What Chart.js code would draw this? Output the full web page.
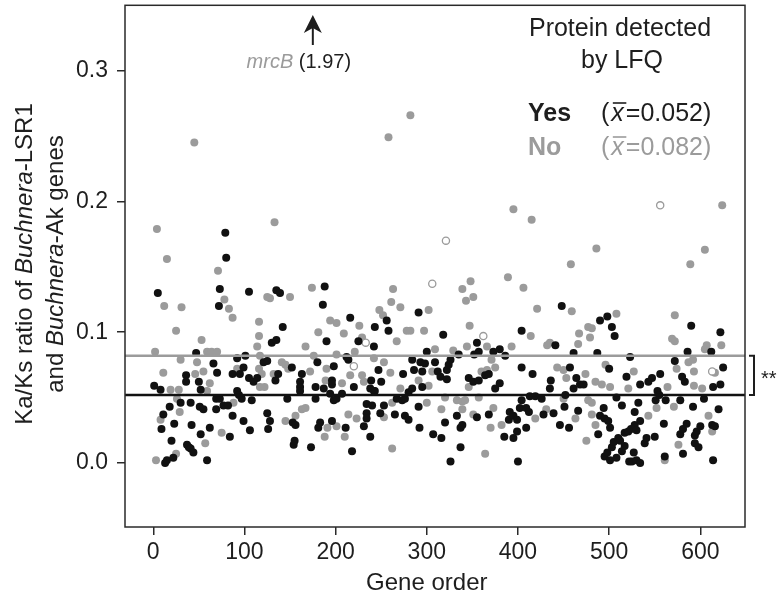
<!DOCTYPE html>
<html><head><meta charset="utf-8">
<script src="https://cdn.jsdelivr.net/npm/chart.js@4"></script>
<style>html,body{margin:0;padding:0;background:#fff}#wrap{width:779px;height:600px}</style>
</head><body><div id="wrap"><canvas id="c" width="779" height="600"></canvas></div>
<script>
const xTicks = [0, 100, 200, 300, 400, 500, 600];
const yTicks = [0, 0.1, 0.2, 0.3];
const meanYes = 0.052;
const meanNo = 0.082;
const mrcBGene = 175;
const mrcBRatio = 1.97;

// Protein detected by LFQ: Yes (black)
const yesGene = [1,5,8,9,11,13,15,18,20,22,23,30,36,36,37,39,41,41,42,44,47,50,51,52,52,55,59,62,66,69,69,70,72,73,73,77,79,80,82,84,87,87,92,92,
94,95,97,99,99,101,105,105,106,108,110,114,121,125,125,126,128,130,134,135,135,137,139,142,147,152,153,154,155,156,161,161,161,163,173,178,178,180,181,183,186,187,188,190,196,196,198,198,
194,196,201,207,211,212,214,216,218,220,225,231,234,234,234,238,238,239,240,242,242,243,243,247,249,250,253,256,258,265,267,273,274,276,276,280,280,284,284,286,291,291,292,293,295,295,298,300,
307,309,312,315,316,318,320,322,322,324,326,326,333,335,337,337,339,346,351,352,355,355,357,357,364,368,368,373,375,380,380,385,386,390,391,395,395,399,399,400,402,404,404,404,
409,409,412,413,416,419,426,428,435,436,439,441,446,448,451,452,456,457,461,461,464,466,468,472,487,488,490,490,494,495,495,498,498,499,500,501,501,503,503,505,506,508,508,510,
512,514,514,517,517,519,521,522,523,524,525,527,528,528,530,530,532,534,534,534,539,541,543,547,550,551,553,555,556,560,561,562,572,578,578,580,581,581,583,585,586,590,592,594,594,596,598,600,604,612,613,614,614,616,620,622,622,625];
const yesRatio = [.059,.130,.056,.026,.037,.000,.002,.043,.017,.004,.030,.046,.067,.062,.014,.012,.046,.011,.029,.008,.084,.062,.043,.056,.022,.041,.002,.027,.076,.049,.041,.069,.120,.133,.049,.044,.176,.157,.044,.020,.068,.036,.080,.055,
.052,.068,.049,.073,.032,.082,.131,.065,.025,.048,.062,.065,.077,.078,.038,.026,.032,.092,.063,.132,.094,.068,.130,.104,.049,.073,.031,.014,.017,.029,.062,.058,.055,.068,.012,.058,.049,.077,.027,.031,.121,.057,.135,.093,.063,.032,.074,.048,
.053,.060,.049,.053,.027,.081,.079,.111,.009,.058,.093,.028,.045,.038,.034,.057,.020,.063,.044,.089,.055,.104,.055,.071,.038,.062,.044,.109,.101,.037,.049,.048,.068,.049,.036,.054,.033,.079,.057,.071,.115,.043,.027,.077,.070,.058,.076,.085,
.022,.077,.070,.066,.019,.098,.031,.071,.064,.075,.079,.001,.036,.083,.027,.012,.029,.065,.062,.083,.092,.035,.085,.063,.067,.068,.037,.085,.057,.087,.061,.020,.082,.033,.039,.036,.019,.033,.024,.001,.042,.101,.073,.048,
.042,.027,.039,.051,.068,.051,.049,.037,.057,.063,.038,.090,.029,.120,.043,.052,.027,.073,.084,.057,.065,.040,.060,.060,.084,.022,.109,.036,.042,.034,.005,.112,.008,.032,.072,.027,.002,.104,.012,.016,.097,.050,.004,.019,
.017,.044,.009,.023,.013,.066,.024,.001,.081,.026,.001,.008,.039,.029,.025,.002,.046,.060,.032,.000,.015,.019,.062,.065,.020,.048,.055,.052,.068,.030,.005,.048,.078,.048,.022,.066,.026,.007,.062,.030,.085,.105,.043,.021,.015,.024,.012,.028,.049,.085,.029,.058,.002,.028,.041,.100,.060,.073];

// Protein detected by LFQ: No (grey)
const noGene = [2,3,4,8,11,12,15,19,25,25,26,28,29,30,31,45,46,48,53,55,57,59,59,62,64,70,71,75,78,83,87,88,92,
114,116,116,116,117,117,119,122,125,128,132,133,141,145,145,148,150,156,163,167,167,172,174,176,181,188,189,190,191,194,
201,201,201,207,209,210,214,216,221,223,226,229,229,231,242,248,252,253,253,258,260,261,262,262,263,267,271,271,278,282,282,291,297,300,302,302,
306,309,316,320,329,333,339,339,339,342,343,344,346,347,348,351,351,357,360,364,366,366,370,371,373,375,382,389,393,395,406,
414,415,419,421,431,432,435,443,450,450,453,458,459,463,466,467,474,475,477,477,479,481,481,481,485,485,486,492,496,501,508,
521,527,543,552,561,564,569,571,572,572,574,576,587,589,592,593,593,602,605,605,607,609,613,616,623,624];
const noRatio = [.085,.002,.179,.033,.069,.120,.156,.056,.101,.007,.049,.056,.039,.079,.119,.245,.068,.077,.094,.070,.015,.085,.055,.061,.085,.085,.147,.023,.125,.118,.111,.046,.072,
.089,.108,.097,.072,.082,.058,.068,.058,.127,.126,.068,.184,.077,.075,.032,.072,.127,.036,.041,.089,.042,.070,.134,.082,.100,.020,.063,.072,.027,.109,
.107,.083,.028,.061,.099,.020,.037,.067,.085,.034,.105,.096,.067,.062,.080,.117,.113,.077,.035,.249,.069,.123,.046,.011,.133,.093,.119,.057,.101,.101,.266,.063,.101,.046,.117,.059,
.070,.087,.041,.050,.086,.048,.133,.047,.041,.048,.124,.089,.058,.105,.139,.127,.037,.050,.070,.007,.089,.071,.027,.079,.042,.073,.029,.142,.089,.194,.134,
.097,.186,.034,.118,.041,.090,.092,.073,.071,.049,.065,.152,.116,.034,.091,.099,.068,.017,.104,.048,.096,.103,.046,.037,.062,.029,.164,.060,.075,.058,.114,
.057,.070,.036,.042,.002,.058,.095,.043,.113,.093,.072,.014,.077,.152,.079,.070,.059,.057,.163,.087,.090,.036,.024,.069,.090,.197];

// open circles (grey outline)
const openGene = [220, 233, 306, 321, 362, 556, 613];
const openRatio = [.074, .092, .137, .170, .097, .197, .070];

const F = "'Liberation Sans', Arial, Helvetica, sans-serif";
const BLACK = '#111111';
const GREY = '#9b9b9b';
const TXT = '#1e1e1e';
const X_MIN = -31, X_MAX = 649, Y_MIN = -0.049, Y_MAX = 0.35;

const pts = (g, r) => g.map((v, i) => ({x: v, y: r[i]}));

function runsWidth(ctx, runs) {
  let w = 0;
  for (const r of runs) { ctx.font = r.f; w += ctx.measureText(r.t).width; }
  return w;
}
function drawRuns(ctx, runs, x, y, align) {
  const w = runsWidth(ctx, runs);
  let cx = align === 'center' ? x - w / 2 : x;
  ctx.textAlign = 'left';
  for (const r of runs) {
    ctx.font = r.f; ctx.fillStyle = r.c || TXT;
    ctx.fillText(r.t, cx, y);
    cx += ctx.measureText(r.t).width;
  }
}
function drawMean(ctx, x, y, val, color, size) {
  const n = size + 'px ' + F, it = 'italic ' + size + 'px ' + F;
  ctx.textAlign = 'left'; ctx.fillStyle = color;
  ctx.font = n; ctx.fillText('(', x, y); x += ctx.measureText('(').width + 2;
  ctx.font = it; const wx = ctx.measureText('x').width;
  ctx.fillText('x', x, y);
  ctx.strokeStyle = color; ctx.lineWidth = 1.6;
  ctx.beginPath(); ctx.moveTo(x + 1.5, y - size * 0.72); ctx.lineTo(x + wx + 2.5, y - size * 0.72); ctx.stroke();
  x += wx + 2;
  ctx.font = n; ctx.fillText('=' + val.toFixed(3) + ')', x, y);
}

const overlay = {
  id: 'overlay',
  afterDraw(chart) {
    const ctx = chart.ctx, ca = chart.chartArea;
    const xs = chart.scales.x, ys = chart.scales.y;
    ctx.save();
    // plot box
    ctx.strokeStyle = '#2a2a2a'; ctx.lineWidth = 1.5;
    ctx.strokeRect(ca.left, ca.top, ca.right - ca.left, ca.bottom - ca.top);

    // y title (two lines, rotated)
    const cy = 264;
    const n = '24px ' + F, it = 'italic 24px ' + F;
    ctx.textBaseline = 'middle';
    ctx.translate(25, cy); ctx.rotate(-Math.PI / 2);
    drawRuns(ctx, [{t: 'Ka/Ks ratio of ', f: n}, {t: 'Buchnera', f: it}, {t: '-LSR1', f: n}], 0, 0, 'center');
    ctx.setTransform(1, 0, 0, 1, 0, 0);
    ctx.translate(56, cy); ctx.rotate(-Math.PI / 2);
    drawRuns(ctx, [{t: 'and ', f: n}, {t: 'Buchnera', f: it}, {t: '-Ak genes', f: n}], 0, 0, 'center');
    ctx.setTransform(1, 0, 0, 1, 0, 0);

    // x title
    ctx.textBaseline = 'alphabetic';
    drawRuns(ctx, [{t: 'Gene order', f: '24px ' + F}], xs.getPixelForValue(300), 590, 'center');

    // legend
    const L = '25px ' + F, LB = 'bold 25px ' + F;
    drawRuns(ctx, [{t: 'Protein detected', f: L}], 620, 36, 'center');
    drawRuns(ctx, [{t: 'by LFQ', f: L}], 622, 68, 'center');
    drawRuns(ctx, [{t: 'Yes', f: LB, c: TXT}], 528, 121, 'left');
    drawMean(ctx, 601, 121, meanYes, TXT, 25);
    drawRuns(ctx, [{t: 'No', f: LB, c: GREY}], 528, 155, 'left');
    drawMean(ctx, 601, 155, meanNo, GREY, 25);

    // mrcB arrow (off-scale value)
    const ax = xs.getPixelForValue(mrcBGene);
    ctx.strokeStyle = TXT; ctx.fillStyle = TXT; ctx.lineWidth = 2;
    ctx.beginPath(); ctx.moveTo(ax, 45); ctx.lineTo(ax, 27); ctx.stroke();
    ctx.beginPath(); ctx.moveTo(ax, 15); ctx.lineTo(ax - 9, 33); ctx.lineTo(ax, 28); ctx.lineTo(ax + 9, 33); ctx.closePath(); ctx.fill();
    drawRuns(ctx, [{t: 'mrcB', f: 'italic 20px ' + F, c: GREY}, {t: ' (' + mrcBRatio.toFixed(2) + ')', f: '20px ' + F, c: TXT}], ax - 14, 68, 'center');

    // significance bracket
    const y1 = ys.getPixelForValue(meanNo), y2 = ys.getPixelForValue(meanYes);
    const bx = ca.right + 9;
    ctx.strokeStyle = TXT; ctx.lineWidth = 2;
    ctx.beginPath(); ctx.moveTo(bx - 5, y1); ctx.lineTo(bx, y1); ctx.lineTo(bx, y2); ctx.lineTo(bx - 5, y2); ctx.stroke();
    ctx.fillStyle = TXT; ctx.font = '20px ' + F; ctx.textAlign = 'left'; ctx.textBaseline = 'middle';
    ctx.fillText('**', bx + 7, (y1 + y2) / 2 + 4);
    ctx.restore();
  }
};

new Chart(document.getElementById('c'), {
  type: 'scatter',
  data: {
    datasets: [
      {type: 'line', label: 'meanYes', data: [{x: X_MIN, y: meanYes}, {x: X_MAX, y: meanYes}], borderColor: BLACK, borderWidth: 2.5, pointRadius: 0, fill: false},
      {type: 'line', label: 'meanNo', data: [{x: X_MIN, y: meanNo}, {x: X_MAX, y: meanNo}], borderColor: GREY, borderWidth: 2.5, pointRadius: 0, fill: false},
      {label: 'Yes', data: pts(yesGene, yesRatio), backgroundColor: BLACK, borderWidth: 0, pointRadius: 4},
      {label: 'Open', data: pts(openGene, openRatio), backgroundColor: '#ffffff', borderColor: GREY, borderWidth: 1.3, pointRadius: 3.6},
      {label: 'No', data: pts(noGene, noRatio), backgroundColor: GREY, borderWidth: 0, pointRadius: 4}
    ]
  },
  options: {
    responsive: false, animation: false, devicePixelRatio: 1,
    layout: {padding: {top: 2, right: 34, left: 0, bottom: 0}},
    plugins: {legend: {display: false}, tooltip: {enabled: false}},
    scales: {
      x: {
        type: 'linear', min: X_MIN, max: X_MAX,
        afterBuildTicks: s => { s.ticks = xTicks.map(v => ({value: v})); },
        afterFit: s => { s.height = 73; s.paddingLeft = 0; s.paddingRight = 0; },
        ticks: {font: {family: F, size: 23}, color: TXT, padding: 4, maxRotation: 0, autoSkip: false, callback: v => String(v)},
        grid: {display: true, drawOnChartArea: false, drawTicks: true, tickLength: 8, color: '#2a2a2a', lineWidth: 1.5},
        border: {display: false}
      },
      y: {
        type: 'linear', min: Y_MIN, max: Y_MAX,
        afterBuildTicks: s => { s.ticks = yTicks.map(v => ({value: v})); },
        afterFit: s => { s.width = 125; s.paddingTop = 0; s.paddingBottom = 0; },
        ticks: {font: {family: F, size: 23}, color: TXT, padding: 9, autoSkip: false, callback: v => v.toFixed(1)},
        grid: {display: true, drawOnChartArea: false, drawTicks: true, tickLength: 8, color: '#2a2a2a', lineWidth: 1.5},
        border: {display: false}
      }
    }
  },
  plugins: [overlay]
});
</script></body></html>
